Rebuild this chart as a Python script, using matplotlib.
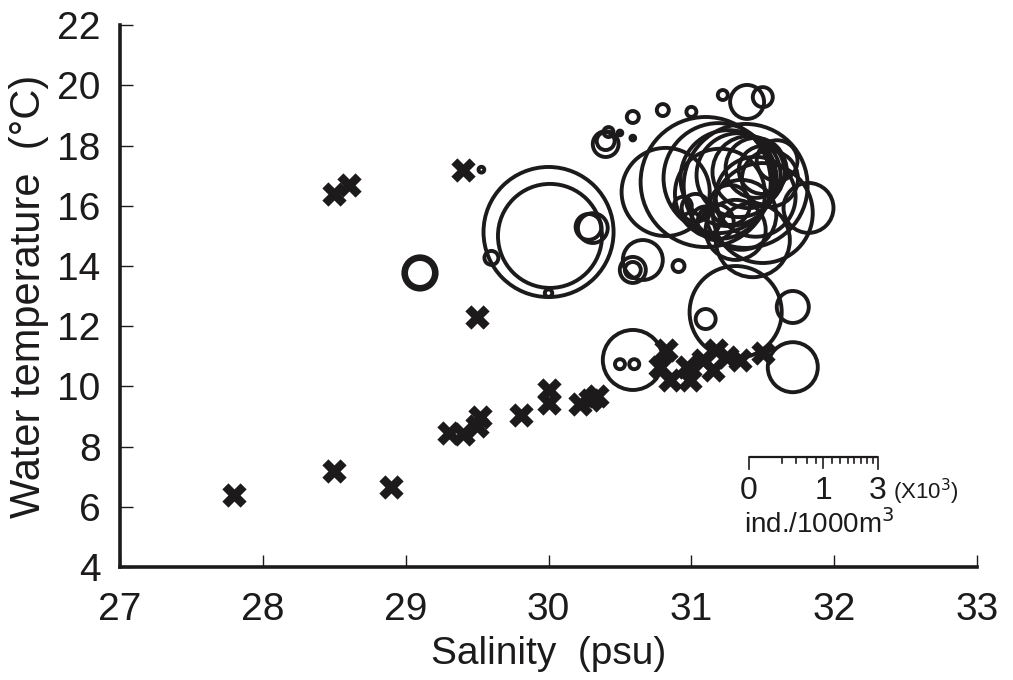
import numpy as np
import matplotlib
matplotlib.use("Agg")
import matplotlib.pyplot as plt

# stations without catch (x marks): salinity (psu), water temperature (degC)
zero_sal = [27.8, 28.5, 28.9, 28.5, 28.6, 29.4, 29.5, 29.3, 29.4, 29.5, 29.52,
            29.81, 30.0, 30.0, 30.22, 30.29, 30.34,
            30.82, 30.78, 30.85, 30.97, 30.99, 31.08, 31.17, 31.15, 31.25, 31.34, 31.5]
zero_temp = [6.4, 7.2, 6.65, 16.4, 16.7, 17.2, 12.3, 8.45, 8.42, 8.7, 8.98,
             9.05, 9.88, 9.45, 9.42, 9.55, 9.68,
             11.2, 10.64, 10.2, 10.64, 10.2, 10.88, 11.2, 10.55, 10.98, 10.88, 11.1]

# stations with catch: salinity, temperature, abundance (ind./1000m3)
catch_sal = [30.0, 30.01, 30.0, 29.6, 29.1, 29.1, 30.28, 30.31, 29.53,
             30.40, 30.40, 30.42, 30.50, 30.59, 30.59, 30.80, 31.0, 31.22, 31.39, 31.5,
             30.59, 30.59, 30.66, 30.91,
             30.82, 31.10, 31.19, 31.26, 31.33, 31.40, 31.45, 31.50, 31.38, 31.50, 31.82,
             31.43, 31.31, 31.17, 31.03, 31.27, 30.94,
             31.45, 31.35, 31.55, 31.20, 31.60, 31.10,
             31.31, 31.10, 31.71, 31.71, 30.59, 30.50, 30.60]
catch_temp = [15.13, 15.0, 13.1, 14.27, 13.77, 13.77, 15.3, 15.26, 17.2,
              18.05, 18.15, 18.45, 18.42, 18.25, 18.95, 19.18, 19.12, 19.68, 19.45, 19.61,
              13.87, 13.87, 14.2, 14.0,
              16.46, 16.79, 16.92, 16.92, 17.02, 17.12, 17.26, 17.19, 16.66, 15.76, 15.93,
              14.86, 15.2, 15.46, 15.93, 16.03, 16.0,
              16.3, 15.7, 16.9, 16.4, 17.5, 15.5,
              12.47, 12.24, 12.64, 10.64, 10.88, 10.74, 10.74]
catch_abund = [3050, 1950, 10, 35, 200, 140, 120, 160, 6,
               120, 58, 18, 4, 4, 26, 26, 18, 18, 208, 72,
               122, 46, 288, 26,
               1400, 3050, 2180, 1660, 1270, 935, 650, 415, 2770, 1800, 450,
               990, 650, 234, 141, 288, 58,
               1150, 880, 565, 1460, 300, 150,
               1530, 72, 185, 451, 649, 18, 18]

# scale bar (x10^3 ind./1000m3)
scale_ticks = [0, 0.2, 0.4, 0.6, 0.8, 1, 1.25, 1.5, 1.75, 2, 2.25, 2.5, 2.75, 3]
scale_labels = [0, 1, 3]

INK = '#1c1a1b'
DPI = 100
BAR_PX = 129   # scale bar length = diameter of a 3000 ind. circle

plt.rcParams['font.family'] = ['Liberation Sans', 'DejaVu Sans']


def size_pts(n):
    d_pt = BAR_PX * np.sqrt(np.asarray(n, dtype=float) / 3000) * 72 / DPI
    return d_pt ** 2


fig = plt.figure(figsize=(10.13, 6.8), dpi=DPI)
ax = fig.add_axes([0.1185, 0.166, 0.846, 0.797])
ax.set_xlim(27, 33)
ax.set_ylim(4, 22)

ax.scatter(catch_sal, catch_temp, s=size_pts(catch_abund), facecolors='none',
           edgecolors=INK, linewidths=2.8, zorder=2, clip_on=False)
ax.scatter(zero_sal, zero_temp, marker='X', s=17.5 ** 2, c=INK, linewidths=0, zorder=3)

ax.set_xticks(range(27, 34))
ax.set_yticks(range(4, 23, 2))
ax.tick_params(direction='in', length=9, width=1, colors=INK, labelsize=28)
ax.tick_params(axis='x', pad=18)
ax.tick_params(axis='y', pad=14)
for side in ['top', 'right']:
    ax.spines[side].set_visible(False)
for side in ['left', 'bottom']:
    ax.spines[side].set_linewidth(2.6)
    ax.spines[side].set_color(INK)

ax.set_xlabel('Salinity  (psu)', fontsize=28, color=INK, labelpad=6)
ax.set_ylabel('Water temperature  (°C)', fontsize=30, color=INK, labelpad=6)

# scale bar, placed in pixel units so it matches the marker diameters
to_data = ax.transData.inverted()
H = fig.bbox.height


def px(x, y):
    return to_data.transform((x, H - y))


x0, y0 = 749, 457
a, b = px(x0, y0), px(x0 + BAR_PX, y0)
ax.plot([a[0], b[0]], [a[1], b[1]], color=INK, lw=1.6, solid_capstyle='butt')
for v in scale_ticks:
    xp = x0 + BAR_PX * np.sqrt(v / 3)
    ln = 12 if v in (0, 3) else (11 if v == 1 else 6)
    p, q = px(xp, y0), px(xp, y0 + ln)
    ax.plot([p[0], q[0]], [p[1], q[1]], color=INK, lw=1.2)
for v in scale_labels:
    xp = x0 + BAR_PX * np.sqrt(v / 3)
    p = px(xp, 491)
    ax.text(p[0], p[1], str(v), fontsize=23, ha='center', va='center', color=INK)
p = px(893, 492)
ax.text(p[0], p[1], '(X10$^3$)', fontsize=16, ha='left', va='center', color=INK)
p = px(744, 524)
ax.text(p[0], p[1], 'ind./1000m$^3$', fontsize=20, ha='left', va='center', color=INK)

fig.savefig('out.png', dpi=DPI)
